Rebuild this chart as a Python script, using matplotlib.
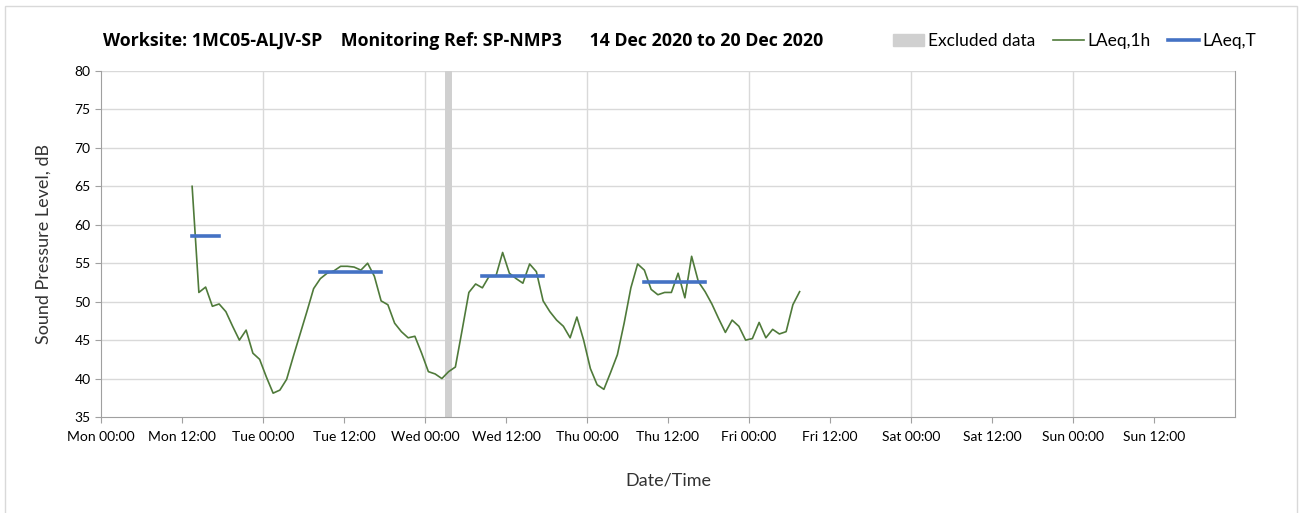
import numpy as np
import matplotlib.pyplot as plt
from matplotlib.patches import Rectangle
from matplotlib.lines import Line2D

# hourly LAeq values, Mon 13:30 onwards (hours from Mon 00:00)
laeq_1h = [65.0, 51.2, 51.9, 49.4, 49.7, 48.7, 46.8, 45.0, 46.3, 43.3,
           42.5, 40.2, 38.1, 38.5, 39.9, 42.9, 45.8, 48.7, 51.7, 53.0,
           53.7, 54.0, 54.6, 54.6, 54.5, 54.1, 55.0, 53.3, 50.1, 49.6,
           47.2, 46.1, 45.3, 45.5, 43.3, 40.9, 40.6, 40.0, 40.9, 41.5,
           46.3, 51.2, 52.3, 51.8, 53.3, 53.3, 56.4, 53.7, 53.0, 52.4,
           54.9, 53.9, 50.1, 48.7, 47.6, 46.8, 45.3, 48.0, 45.0, 41.3,
           39.2, 38.6, 40.8, 43.1, 47.2, 51.8, 54.9, 54.1, 51.6, 50.9,
           51.2, 51.2, 53.7, 50.5, 55.9, 52.6, 51.3, 49.7, 47.8, 46.0,
           47.6, 46.8, 45.0, 45.2, 47.3, 45.3, 46.4, 45.8, 46.1, 49.6,
           51.3]
first_hour = 13.5
hours = first_hour + np.arange(len(laeq_1h))

# LAeq,T periods (start hour, end hour, level)
period_start = [13.5, 32.5, 56.5, 80.5]
period_end = [17.5, 41.5, 65.5, 89.5]
period_level = [58.5, 53.8, 53.4, 52.5]

# excluded hour
excl_start, excl_end = 51, 52

days = ["Mon", "Tue", "Wed", "Thu", "Fri", "Sat", "Sun"]
tick_labels = []
for d in days:
    tick_labels += [d + " 00:00", d + " 12:00"]

plt.rcParams['font.family'] = ['Lato', 'DejaVu Sans']

fig = plt.figure(figsize=(13.03, 5.13), dpi=100)
ax = fig.add_axes([101/1303, 1 - 417/513, 1134/1303, 346/513])

# outer frame
fig.patches.append(Rectangle((5/1303, -0.01), 1292/1303, 1 - 6/513 + 0.01,
                             transform=fig.transFigure, fill=False,
                             edgecolor='#d9d9d9', linewidth=1))

ax.axvspan(excl_start, excl_end, color='#d0d0d0', linewidth=0, zorder=1)
ax.plot(hours, laeq_1h, color='#4f7a3a', linewidth=1.2, zorder=3)
for s, e, v in zip(period_start, period_end, period_level):
    ax.plot([s, e], [v, v], color='#4472c4', linewidth=2.6, zorder=4)

ax.set_xlim(0, 168)
ax.set_ylim(35, 80)
ax.set_yticks(np.arange(35, 81, 5))
ax.set_xticks(np.arange(0, 168, 12))
ax.set_xticklabels(tick_labels)
ax.grid(False)
for y in np.arange(40, 81, 5):
    ax.axhline(y, color='#d9d9d9', linewidth=1, zorder=0)
for x in np.arange(24, 168, 24):
    ax.axvline(x, color='#d9d9d9', linewidth=1, zorder=0)

ax.tick_params(axis='both', labelsize=10, color='#a0a0a0', length=4)
ax.tick_params(axis='x', pad=6)
for side in ['left', 'bottom', 'right']:
    ax.spines[side].set_color('#a0a0a0')
ax.spines['top'].set_visible(False)

ax.set_ylabel("Sound Pressure Level, dB", fontsize=13, color='#333333', labelpad=16)
ax.set_xlabel("Date/Time", fontsize=13, color='#333333', labelpad=21)

fig.text(103/1303, 1 - 41/513,
         "Worksite: 1MC05-ALJV-SP    Monitoring Ref: SP-NMP3      14 Dec 2020 to 20 Dec 2020",
         fontsize=12.8, fontweight='bold', va='center', ha='left',
         family=['Open Sans', 'DejaVu Sans'])

handles = [Rectangle((0, 0), 1, 1, color='#d0d0d0'),
           Line2D([], [], color='#4f7a3a', linewidth=1.2),
           Line2D([], [], color='#4472c4', linewidth=2.6)]
fig.legend(handles, ["Excluded data", "LAeq,1h", "LAeq,T"], loc='center right',
           bbox_to_anchor=(1272/1303, 1 - 41/513), ncol=3, frameon=False,
           fontsize=12.5, handlelength=1.8, handletextpad=0.2, columnspacing=1.0)

fig.savefig("out.png", dpi=100)
